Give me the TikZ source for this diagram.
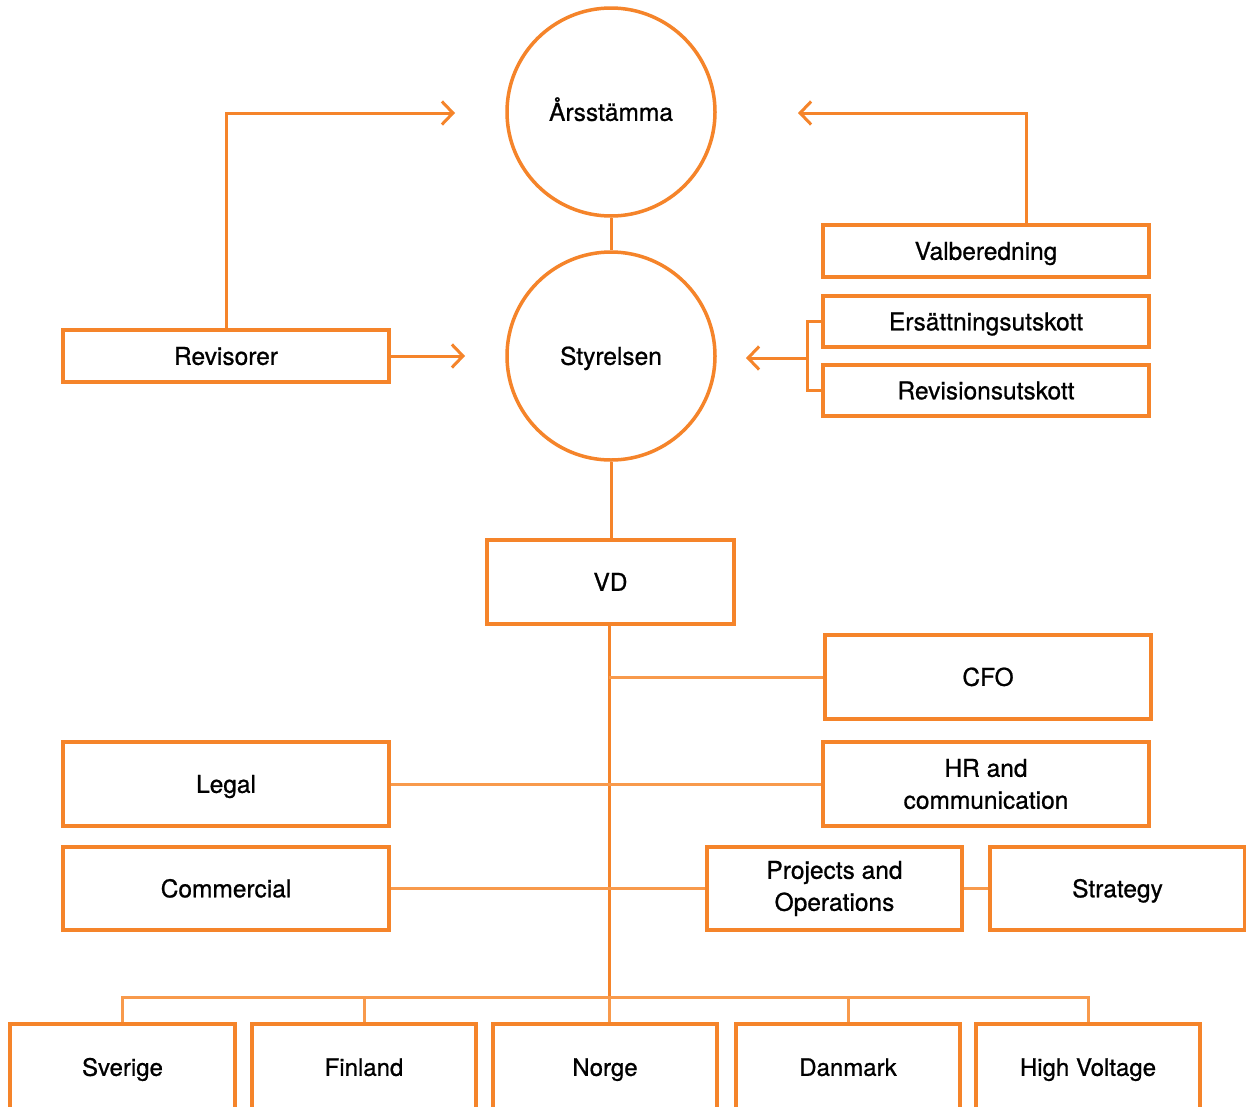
\documentclass[tikz,border=0pt]{standalone}
\usepackage{fontspec}
\setmainfont{TeX Gyre Heros}[FakeBold=0.8]
\usetikzlibrary{arrows.meta}
\definecolor{boxor}{HTML}{F5842A}
\definecolor{lineor}{HTML}{F89A4C}
\tikzset{
  box/.style={draw=boxor, line width=3.5pt, rectangle, align=center, inner sep=0pt,
    font=\fontsize{24.5}{32}\selectfont},
  one/.style={text height=24pt, text depth=6.4pt},
  cbox/.style={box, one, font=\fontsize{24}{30}\selectfont},
  circ/.style={draw=boxor, line width=3.5pt, circle, minimum size=208pt, inner sep=0pt,
    one, font=\fontsize{24.5}{30}\selectfont},
  conn/.style={draw=lineor, line width=3pt},
  dconn/.style={draw=boxor, line width=3pt},
  arr/.style={draw=boxor, line width=3pt, -{Straight Barb[length=11pt,width=23pt]}},
}
\begin{document}
\begin{tikzpicture}[x=1pt,y=-1pt]
\clip (0,0) rectangle (1246,1106);
\fill[white] (0,0) rectangle (1246,1106);
% circles
\node[circ] (ars) at (611,112) {\makebox[0pt]{Årsstämma}};
\node[circ] (sty) at (611,356) {\makebox[0pt]{Styrelsen}};
% governance boxes
\node[box, one, minimum width=326pt, minimum height=52pt] (rev) at (226,356) {Revisorer};
\node[box, one, minimum width=326pt, minimum height=52pt] (val) at (986,251) {Valberedning};
\node[box, one, minimum width=326pt, minimum height=51pt] (ers) at (986,321.5) {Ersättningsutskott};
\node[box, one, minimum width=326pt, minimum height=51pt] (revu) at (986,390.5) {Revisionsutskott};
% management
\node[box, one, minimum width=247pt, minimum height=84pt] (vd) at (610.5,582) {VD};
\node[box, one, minimum width=326pt, minimum height=84pt] (cfo) at (988,677) {CFO};
\node[box, one, minimum width=326pt, minimum height=84pt] (legal) at (226,784) {Legal};
\node[box, minimum width=326pt, minimum height=84pt] (hr) at (986,784) {HR and\\communication};
\node[box, one, minimum width=326pt, minimum height=83pt] (com) at (226,888.5) {Commercial};
\node[box, minimum width=255pt, minimum height=83pt] (proj) at (834.5,888.5) {Projects and\\Operations};
\node[box, one, minimum width=255pt, minimum height=83pt] (strat) at (1117.5,888.5) {Strategy};
% countries
\node[cbox, minimum width=225pt, minimum height=86pt] (sve) at (122.5,1067) {Sverige};
\node[cbox, minimum width=224pt, minimum height=86pt] (fin) at (364,1067) {Finland};
\node[cbox, minimum width=224pt, minimum height=86pt] (nor) at (605,1067) {Norge};
\node[cbox, minimum width=224pt, minimum height=86pt] (dan) at (848,1067) {Danmark};
\node[cbox, minimum width=224pt, minimum height=86pt] (hv) at (1088,1067) {High Voltage};
% coordinates
\coordinate (aL) at (455,113);
\coordinate (aR) at (798,113);
\coordinate (aRev) at (465,356);
\coordinate (br) at (807,358);
\coordinate (aSty) at (746,358);
\coordinate (busc) at (609,997);
% connectors
\draw[dconn] (ars.south) -- (sty.north);
\draw[arr] (rev.north) |- (aL);
\draw[arr] (rev.east) -- (aRev);
\draw[arr] ([xshift=40pt]val.north) |- (aR);
\draw[dconn] (ers.west) -| (br) |- (revu.west);
\draw[arr] (br) -- (aSty);
\draw[dconn] (sty.south) -- (sty.south |- vd.north);
\draw[dconn] (vd.south -| busc) -- (busc);
\draw[conn] (cfo.west) -- (cfo.west -| busc);
\draw[conn] (legal.east) -- (hr.west);
\draw[conn] (com.east) -- (proj.west);
\draw[conn] (proj.east) -- (strat.west);
\draw[conn] (sve.north) -- (sve.north |- busc) -- (hv.north |- busc) -- (hv.north);
\draw[conn] (fin.north) -- (fin.north |- busc);
\draw[conn] (busc) -- (nor.north -| busc);
\draw[conn] (dan.north) -- (dan.north |- busc);
\end{tikzpicture}
\end{document}
